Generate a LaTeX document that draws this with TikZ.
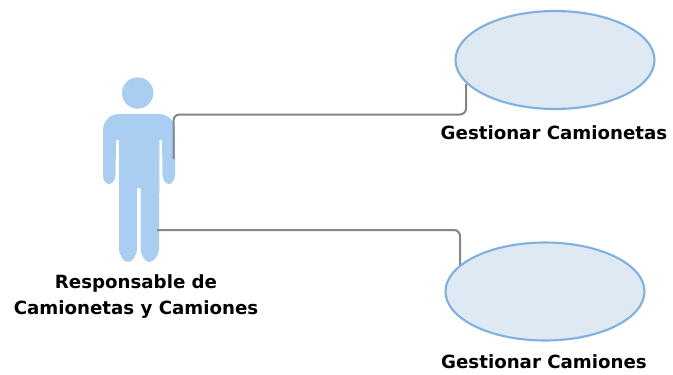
\documentclass[tikz,border=0pt]{standalone}
\usepackage{fontspec}
\setmainfont{DejaVu Sans}
\usetikzlibrary{shapes.geometric}
\definecolor{actorblue}{HTML}{A9CEF2}
\definecolor{ufill}{HTML}{DFE9F4}
\definecolor{uline}{HTML}{7FB0E0}
\definecolor{conn}{HTML}{858585}
\tikzset{
  usecase/.style={ellipse,draw=uline,fill=ufill,line width=2.1pt,minimum width=199pt,minimum height=98pt,inner sep=0pt},
  lbl/.style={font=\fontsize{18.2}{26}\selectfont\bfseries,align=center,inner sep=0pt,text=black},
  link/.style={draw=conn,line width=2pt,rounded corners=6pt},
  figure/.style={fill=actorblue,draw=none}
}
\begin{document}
\begin{tikzpicture}[x=1pt,y=-1pt]
\useasboundingbox (0,0) rectangle (673,375);
\coordinate (a1) at (173.5,159);
\coordinate (a2) at (157,230);
\coordinate (e1) at (466,84);
\coordinate (e2) at (460,266);
% actor
\fill[figure] (137.7,93) circle (15.7);
\fill[figure]
  (103,130) to[out=90,in=180] (119,114) -- (159,114) to[out=0,in=90] (175,130)
  -- (175,175) .. controls (175,181) and (171,184) .. (169,184)
  .. controls (166,184) and (163,181) .. (162.5,175)
  -- (162,140) -- (159.5,140) -- (159,248) .. controls (159,256) and (153,262) .. (149.5,262)
  .. controls (145,262) and (141,256) .. (140.5,248) -- (140.5,188) -- (137,188) -- (137,248)
  .. controls (137,256) and (132,262) .. (128,262) .. controls (124,262) and (119,256) .. (119,248)
  -- (119,140) -- (116,140) -- (115.5,175) .. controls (115,181) and (112,184) .. (109,184)
  .. controls (106,184) and (103,181) .. (103,175) -- cycle;
% connectors, their ends covered by the ellipses
\draw[link] (a1) |- (e1 |- 0,114.5) -- (e1);
\draw[link] (a2) -- (e2 |- a2) -- (e2);
\node[usecase] (u1) at (555,60) {};
\node[usecase] (u2) at (545,291.5) {};
\node[lbl] (t1) at (554,133) {Gestionar Camionetas};
\node[lbl] (t2) at (544,362) {Gestionar Camiones};
\node[lbl] (t3) at (136,296.5) {Responsable de\\Camionetas y Camiones};
\end{tikzpicture}
\end{document}
